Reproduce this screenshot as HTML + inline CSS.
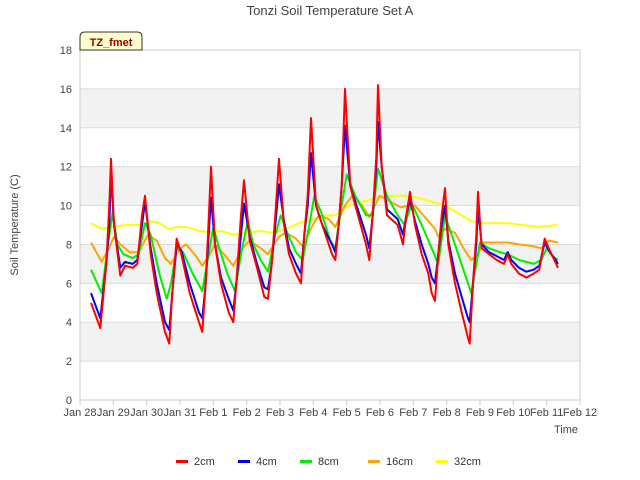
<!DOCTYPE html>
<html><head><meta charset="utf-8"><style>
body{margin:0;background:#fff;font-family:"Liberation Sans",sans-serif;}
svg{display:block}
</style></head><body>
<svg id="chart" width="640" height="480" font-family="Liberation Sans, sans-serif">
<text x="330" y="15" text-anchor="middle" font-size="13" fill="#444">Tonzi Soil Temperature Set A</text>
<g id="bands"></g><g id="yaxis"></g><g id="xaxis"></g>
<rect x="80" y="50" width="500" height="350" fill="none" stroke="#ccc"/>
<g id="series"></g>
<text x="18" y="225" transform="rotate(-90 18 225)" text-anchor="middle" font-size="11" fill="#444">Soil Temperature (C)</text>
<text x="566" y="433" text-anchor="middle" font-size="11" fill="#444">Time</text>
<g><path d="M80,50 L80,37 Q80,32 85,32 L137,32 Q142,32 142,37 L142,50 Z" fill="#ffffcc" stroke="#333"/><text x="111" y="46" text-anchor="middle" font-size="11" font-weight="bold" fill="#990000">TZ_fmet</text></g>
<g id="legend"></g>
</svg>
<script>
const tRB=[0.33,0.61,0.79,0.88,0.93,1.02,1.21,1.35,1.58,1.72,1.86,1.95,2.12,2.30,2.55,2.68,2.77,2.9,3.04,3.29,3.57,3.67,3.77,3.86,3.93,4.05,4.23,4.46,4.60,4.69,4.83,4.92,5.09,5.31,5.53,5.64,5.75,5.86,5.97,6.12,6.27,6.48,6.63,6.73,6.83,6.93,7.08,7.27,7.56,7.66,7.76,7.85,7.95,8.11,8.26,8.58,8.68,8.78,8.89,8.94,9.05,9.21,9.53,9.69,9.79,9.9,10.05,10.25,10.45,10.55,10.65,10.75,10.85,10.95,11.05,11.25,11.45,11.64,11.69,11.79,11.89,11.94,12.05,12.27,12.50,12.72,12.83,12.94,13.17,13.39,13.61,13.78,13.94,14.06,14.23,14.34];
const v2cm=[5.0,3.7,7,10,12.4,9,6.4,6.9,6.8,7,9.5,10.5,7.5,5.5,3.5,2.9,5.5,8.3,7.5,5.5,4,3.5,6,9.3,12.0,8,6,4.5,4,6,9.5,11.3,8.2,6.8,5.3,5.2,7,9.5,12.4,9,7.5,6.5,6,8.5,10.5,14.5,10,9,7.5,7.2,9,11,16.0,11,10,8,7.2,9.5,12.5,16.2,12,9.5,9,8,9.5,10.7,9,7.5,6.5,5.5,5.1,7.5,9.5,10.9,8,6,4.5,3.2,2.9,6,8.5,10.7,7.8,7.5,7.2,7,7.5,7,6.5,6.3,6.5,6.7,8.3,7.8,7.2,6.8];
const v4cm=[5.5,4.2,7,9,11.7,9,6.8,7.1,7.0,7.2,9,10.2,7.8,6,4,3.6,5.5,8.0,7.7,6,4.5,4.2,6,8.5,10.4,8,6.3,5.2,4.6,6,8.5,10.1,8.4,7.0,5.8,5.7,7,9,11.1,9.2,7.8,7,6.5,8.5,10,12.7,10,9,8,7.6,9,11,14.1,11,10.2,8.5,7.8,9.5,12,14.3,12,9.8,9.3,8.5,9.5,10.3,9.2,8,7,6.3,6.0,7.5,9,10.0,8.2,6.5,5.3,4.2,4.0,6,8,9.9,8,7.6,7.4,7.2,7.6,7.2,6.8,6.6,6.7,6.9,8.1,7.7,7.3,7.0];
const t8=[0.33,0.65,0.84,0.98,1.12,1.30,1.58,1.76,1.95,2.12,2.38,2.60,2.73,2.9,3.09,3.38,3.67,3.81,4.00,4.14,4.42,4.65,4.83,5.03,5.20,5.42,5.64,5.86,6.02,6.22,6.48,6.68,6.88,7.03,7.27,7.51,7.66,7.85,8.00,8.26,8.58,8.78,8.94,9.21,9.53,9.74,9.95,10.25,10.55,10.75,10.95,11.25,11.54,11.74,11.89,12.0,12.27,12.61,12.83,13.17,13.61,13.84,14.0,14.17,14.34];
const v8cm=[6.7,5.5,8,9.7,8,7.5,7.3,7.5,9.1,8.5,6.5,5.2,6,7.8,7.6,6.5,5.6,7,8.9,8,6.5,5.6,7.5,9.2,8,7.2,6.6,8.5,9.5,8.6,7.6,7.2,9,10.5,9.5,8.2,7.8,10,11.6,10.5,9.5,9.5,11.9,10.5,9.5,9,10.1,9,7.8,7,9.5,8,6.5,5.5,7,8.1,7.8,7.6,7.5,7.2,7.0,7.2,7.8,7.4,7.2];
const t16=[0.33,0.65,0.84,1.02,1.21,1.49,1.76,2.04,2.30,2.55,2.73,3.0,3.19,3.48,3.67,3.86,4.05,4.32,4.60,4.87,5.09,5.42,5.64,5.97,6.17,6.48,6.68,6.98,7.17,7.46,7.66,7.95,8.16,8.47,8.68,8.99,9.31,9.63,9.85,10.05,10.35,10.65,10.75,10.95,11.25,11.54,11.74,11.94,12.11,12.50,12.83,13.17,13.61,13.84,14.06,14.34];
const v16cm=[8.1,7.1,7.7,8.4,8.0,7.6,7.6,8.5,8.2,7.3,7.0,7.8,8.0,7.4,6.9,7.4,8.0,7.5,6.9,7.8,8.2,7.8,7.5,8.4,8.6,8.3,7.9,9,9.5,9.3,8.9,10,10.5,10.0,9.4,10.5,10.2,9.9,10.0,10.0,9.4,8.8,8.4,8.8,8.6,7.7,7.2,7.5,8.1,8.1,8.1,8.0,7.9,7.8,8.2,8.1];
const t32=[0.33,0.65,0.93,1.39,1.86,2.12,2.38,2.64,2.9,3.19,3.57,3.96,4.23,4.60,4.98,5.42,5.75,6.17,6.58,6.98,7.37,7.66,8.05,8.47,8.89,9.31,9.74,10.15,10.55,10.95,11.35,11.74,12.05,12.50,12.83,13.28,13.72,14.34];
const v32cm=[9.1,8.8,8.9,9.0,9.0,9.2,9.1,8.8,8.9,8.9,8.7,8.6,8.7,8.5,8.6,8.7,8.6,8.8,9.1,9.3,9.5,9.5,10.0,10.2,10.4,10.5,10.5,10.4,10.2,10.0,9.6,9.2,9.1,9.1,9.1,9.0,8.9,9.0];
const yTicks=[0,2,4,6,8,10,12,14,16,18];
const xLabels=["Jan 28","Jan 29","Jan 30","Jan 31","Feb 1","Feb 2","Feb 3","Feb 4","Feb 5","Feb 6","Feb 7","Feb 8","Feb 9","Feb 10","Feb 11","Feb 12"];
const legendNames=["2cm","4cm","8cm","16cm","32cm"];
const colors=["#ff0000","#0000ff","#00ee00","#ffa500","#ffff00"];
const NS="http://www.w3.org/2000/svg";
const X=t=>80+t*500/15, Y=v=>400-v*350/18;
function mk(tag,at,parent){const e=document.createElementNS(NS,tag);for(const k in at)e.setAttribute(k,at[k]);parent.appendChild(e);return e;}
const bands=document.getElementById('bands'),ya=document.getElementById('yaxis'),xa=document.getElementById('xaxis'),sg=document.getElementById('series'),lg=document.getElementById('legend');
for(let i=0;i<yTicks.length-1;i++){ if(i%2==1){const r=mk('rect',{x:80,y:Y(yTicks[i+1]),width:500,height:Y(yTicks[i])-Y(yTicks[i+1]),fill:'#f2f2f2'},bands);

}}
yTicks.forEach(v=>{const l=mk('line',{x1:80,x2:580,y1:Y(v),y2:Y(v),stroke:'#dcdcdc'},ya);


const t=mk('text',{x:72,y:Y(v)+4,'text-anchor':'end','font-size':11,fill:'#444'},ya);t.textContent=v;

});
xLabels.forEach((s,i)=>{const l=mk('line',{x1:X(i),x2:X(i),y1:400,y2:405,stroke:'#ccc'},xa);


const t=mk('text',{x:X(i),y:416,'text-anchor':'middle','font-size':11,fill:'#444'},xa);t.textContent=s;

});
const S=[[v32cm,4,t32],[v16cm,3,t16],[v8cm,2,t8],[v4cm,1,tRB],[v2cm,0,tRB]];
S.forEach(([vals,ci,ts])=>{const d=vals.map((v,i)=>(i?'L':'M')+X(ts[i]).toFixed(1)+','+Y(v).toFixed(1)).join('');
const p=mk('path',{d:d,fill:'none',stroke:colors[ci],'stroke-width':2,'stroke-linejoin':'round'},sg);

});
legendNames.forEach((n,i)=>{const x0=176+i*62+(i>2?(i-2)*6:0);const g=mk('g',{},lg);


mk('rect',{x:x0,y:460,width:12,height:3,fill:colors[i]},g);
const t=mk('text',{x:x0+18,y:465,'font-size':11,fill:'#333'},g);t.textContent=n;});
</script>
</body></html>
